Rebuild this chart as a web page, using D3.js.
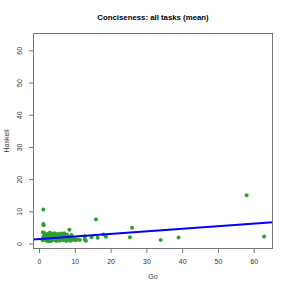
<!DOCTYPE html>
<html>
<head>
<meta charset="utf-8">
<script src="https://cdn.jsdelivr.net/npm/d3@7"></script>
<style>
  body { margin: 0; background: #fff; }
  svg { display: block; font-family: "Liberation Sans", Arial, sans-serif; }
</style>
</head>
<body>
<div id="chart"></div>
<script>
// Go vs Haskell: mean conciseness per task
var goValues = [
  1.2, 1.2, 1.3, 1.1, 8.5, 9.1, 15.9, 18, 18.7, 16.4, 14.7, 12.8, 12.8, 11.4, 13.1,
  25.4, 26, 34, 39, 58, 62.9,
  1.0, 1.2, 1.5, 1.8, 2.0, 2.2, 2.4, 2.6, 2.8, 3.0, 3.1, 3.3, 3.5, 3.6, 3.8, 4.0,
  4.1, 4.3, 4.5, 4.6, 4.8, 5.0, 5.1, 5.3, 5.5, 5.6, 5.8, 6.0, 6.1, 6.3, 6.5, 6.6,
  6.8, 7.0, 7.1, 7.3, 7.5, 7.6, 7.8, 8.0, 8.2, 8.4, 8.6, 8.8, 9.0, 9.3, 9.5, 9.8,
  10.2, 10.6, 2.0, 3.4, 4.4, 5.9, 1.6, 2.9, 6.9, 1.4, 2.3
];
var haskellValues = [
  10.6, 6.1, 5.7, 3.5, 4.3, 2.7, 7.5, 2.8, 2.1, 1.8, 2.0, 2.3, 1.3, 1.1, 0.9,
  1.95, 4.9, 1.1, 1.9, 15, 2.2,
  1.0, 2.0, 3.3, 2.6, 1.5, 0.8, 3.0, 2.2, 1.2, 3.4, 2.7, 1.8, 0.9, 2.4, 1.4, 2.9,
  2.0, 1.1, 2.5, 1.6, 0.8, 2.2, 3.0, 1.3, 2.6, 1.8, 0.9, 2.3, 3.1, 1.5, 2.7, 1.9,
  1.0, 3.2, 2.4, 1.4, 2.0, 0.8, 2.8, 1.6, 2.2, 1.1, 1.8, 0.9, 1.5, 2.0, 1.2, 1.6,
  1.0, 1.3, 2.6, 3.1, 3.2, 3.0, 1.2, 0.7, 1.7, 2.4, 1.9
];
var axisLimits = [0.8, 62.9];        // shared range used for both axes
var tickValues = [0, 10, 20, 30, 40, 50, 60];
var fitLine = { intercept: 1.37, slope: 0.08 };   // lm(Haskell ~ Go)

var width = 291, height = 291;
var margin = { top: 33, right: 18, bottom: 42, left: 33 };

var pad = (axisLimits[1] - axisLimits[0]) * 0.04;
var dom = [axisLimits[0] - pad, axisLimits[1] + pad];

var x = d3.scaleLinear().domain(dom).range([margin.left, width - margin.right]);
var y = d3.scaleLinear().domain(dom).range([height - margin.bottom, margin.top]);

var svg = d3.select("#chart").append("svg")
  .attr("width", width)
  .attr("height", height);

svg.append("defs").append("clipPath").attr("id", "plotclip")
  .append("rect")
  .attr("x", margin.left).attr("y", margin.top)
  .attr("width", width - margin.left - margin.right)
  .attr("height", height - margin.top - margin.bottom);

// points
var points = goValues.map(function (g, i) { return { go: g, hs: haskellValues[i] }; });
svg.append("g")
  .selectAll("circle")
  .data(points)
  .enter().append("circle")
  .attr("cx", function (d) { return x(d.go); })
  .attr("cy", function (d) { return y(d.hs); })
  .attr("r", 2)
  .attr("fill", "#2fa02f");

// regression line
svg.append("line")
  .attr("clip-path", "url(#plotclip)")
  .attr("x1", x(dom[0]))
  .attr("y1", y(fitLine.intercept + fitLine.slope * dom[0]))
  .attr("x2", x(dom[1]))
  .attr("y2", y(fitLine.intercept + fitLine.slope * dom[1]))
  .attr("stroke", "#0000ff")
  .attr("stroke-width", 2);

// box
svg.append("rect")
  .attr("x", margin.left + 0.5).attr("y", margin.top + 0.5)
  .attr("width", width - margin.left - margin.right - 1)
  .attr("height", height - margin.top - margin.bottom - 1)
  .attr("fill", "none")
  .attr("stroke", "#777")
  .attr("stroke-width", 1);

// axes
var xAxis = svg.append("g")
  .attr("transform", "translate(0," + (height - margin.bottom) + ")")
  .call(d3.axisBottom(x).tickValues(tickValues).tickSize(4).tickPadding(6));
var yAxis = svg.append("g")
  .attr("transform", "translate(" + margin.left + ",0)")
  .call(d3.axisLeft(y).tickValues(tickValues).tickSize(4).tickPadding(8));

[xAxis, yAxis].forEach(function (a) {
  a.select(".domain").remove();
  a.selectAll("line").attr("stroke", "#777");
  a.selectAll("text").attr("font-size", "7px").attr("fill", "#333")
    .attr("font-family", "Liberation Sans, Arial, sans-serif");
});
// R style: y tick labels run parallel to the axis
yAxis.selectAll(".tick text")
  .attr("x", 0)
  .attr("dy", 0)
  .attr("text-anchor", "middle")
  .attr("transform", "translate(-11,0) rotate(-90)");

// titles
svg.append("text")
  .attr("x", (margin.left + width - margin.right) / 2)
  .attr("y", 20)
  .attr("text-anchor", "middle")
  .attr("font-size", "7.8px")
  .attr("font-weight", "bold")
  .text("Conciseness: all tasks (mean)");

svg.append("text")
  .attr("x", (margin.left + width - margin.right) / 2)
  .attr("y", 279)
  .attr("text-anchor", "middle")
  .attr("font-size", "7px")
  .attr("fill", "#333")
  .text("Go");

svg.append("text")
  .attr("transform", "translate(9," + ((margin.top + height - margin.bottom) / 2) + ") rotate(-90)")
  .attr("text-anchor", "middle")
  .attr("font-size", "7px")
  .attr("fill", "#333")
  .text("Haskell");
</script>
</body>
</html>
